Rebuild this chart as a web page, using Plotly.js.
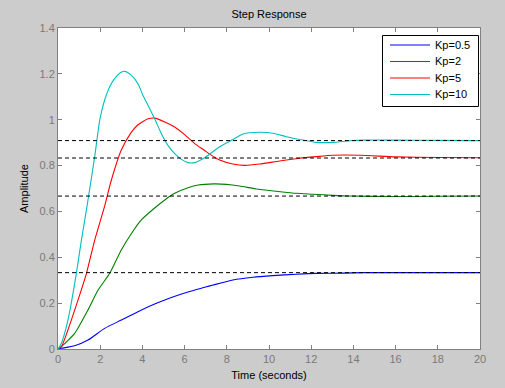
<!DOCTYPE html>
<html>
<head>
<meta charset="utf-8">
<script src="https://cdn.plot.ly/plotly-3.0.1.min.js"></script>
<style>
html,body{margin:0;padding:0;background:#cccccc;}
#chart{width:505px;height:388px;}
</style>
</head>
<body>
<div id="chart"></div>
<script>
// Series
const seriesNames = ["Kp=0.5", "Kp=2", "Kp=5", "Kp=10"];

const tBlue = [0,0.16,0.79,1.42,2.21,3.0,3.79,4.58,5.37,6.16,6.95,7.35,8.29,9.24,10.19,11.3,12.25,13.5,14.5,16,18,20];
const yBlue = [0,0.003,0.014,0.039,0.09,0.126,0.163,0.196,0.225,0.249,0.269,0.279,0.301,0.313,0.320,0.326,0.330,0.331,0.333,0.333,0.333,0.333];

const tGreen = [0,0.16,0.79,1.42,1.9,2.45,3.0,3.48,3.95,4.58,5.06,5.53,6.16,6.64,7.4,7.98,8.61,9.4,10.35,11.3,12.09,13.03,13.8,16,18,20];
const yGreen = [0,0.01,0.068,0.17,0.257,0.33,0.432,0.504,0.563,0.615,0.65,0.679,0.703,0.715,0.72,0.718,0.711,0.698,0.688,0.679,0.675,0.670,0.667,0.665,0.666,0.667];

const tRed = [0,0.16,0.47,0.95,1.35,1.74,2.2,2.53,3.0,3.48,3.79,4.27,4.58,5.06,5.53,6.0,6.48,6.95,7.19,7.66,8.29,8.85,9.56,10.5,11.45,12.25,13.03,14.3,16,18,20];
const yRed = [0,0.01,0.083,0.214,0.33,0.475,0.62,0.737,0.868,0.946,0.978,1.004,1.007,0.99,0.968,0.935,0.896,0.866,0.85,0.824,0.807,0.801,0.807,0.820,0.832,0.839,0.845,0.845,0.838,0.835,0.834];

const tCyan = [0,0.16,0.47,0.87,1.11,1.37,1.74,1.98,2.21,2.45,2.69,2.92,3.16,3.48,3.79,4.03,4.27,4.58,4.9,5.21,5.53,5.85,6.16,6.48,6.95,7.66,8.29,8.77,9.56,10.19,10.82,11.45,12.25,13.03,13.82,14.5,16,18,20];
const yCyan = [0,0.025,0.126,0.33,0.475,0.62,0.839,0.999,1.086,1.144,1.18,1.203,1.211,1.193,1.157,1.106,1.062,1.004,0.939,0.888,0.852,0.827,0.813,0.813,0.834,0.882,0.914,0.938,0.945,0.941,0.926,0.914,0.901,0.901,0.908,0.911,0.911,0.910,0.909];

const steadyValues = [0.333, 0.667, 0.833, 0.909];
const timeRange = [0, 20];

const xTicks = [0,2,4,6,8,10,12,14,16,18,20];
const yTicks = [0,0.2,0.4,0.6,0.8,1,1.2,1.4];
const yTickLabels = ["0","0.2","0.4","0.6","0.8","1","1.2","1.4"];

const colors = ["#0000ff", "#008000", "#ff0000", "#00bfbf"];
const ts = [tBlue, tGreen, tRed, tCyan];
const ys = [yBlue, yGreen, yRed, yCyan];

const traces = [];
for (let i = 0; i < 4; i++) {
  traces.push({
    x: ts[i], y: ys[i], type: "scatter", mode: "lines",
    name: seriesNames[i], showlegend: false,
    line: {color: colors[i], width: 1.1, shape: "spline", smoothing: 0.6},
    hoverinfo: "skip"
  });
}
for (let i = 0; i < steadyValues.length; i++) {
  traces.push({
    x: timeRange, y: [steadyValues[i], steadyValues[i]],
    type: "scatter", mode: "lines", showlegend: false,
    line: {color: "#000000", width: 1, dash: "4px,3px"},
    hoverinfo: "skip"
  });
}

// Plot area in pixels (for placing the legend box)
const W = 505, H = 388;
const M = {l: 58, r: 25, t: 28, b: 39};
const pw = W - M.l - M.r, ph = H - M.t - M.b;
const px2x = p => (p - M.l) / pw;
const py2y = p => (H - M.b - p) / ph;

const shapes = [];
const annotations = [];
// legend box
shapes.push({type: "rect", xref: "paper", yref: "paper",
  x0: px2x(382.5), x1: px2x(478.5), y0: py2y(106.5), y1: py2y(35.5),
  fillcolor: "#ffffff", line: {color: "#000000", width: 1}, layer: "above"});
const rowY = [45, 61.5, 78, 94.5];
for (let i = 0; i < 4; i++) {
  shapes.push({type: "line", xref: "paper", yref: "paper",
    x0: px2x(390), x1: px2x(430), y0: py2y(rowY[i]), y1: py2y(rowY[i]),
    line: {color: colors[i], width: 1}, layer: "above"});
  annotations.push({xref: "paper", yref: "paper", x: px2x(433), y: py2y(rowY[i]),
    xanchor: "left", yanchor: "middle", showarrow: false, text: seriesNames[i],
    font: {size: 11, color: "#000000"}});
}

const axisCommon = {
  showgrid: false, zeroline: false,
  showline: true, linecolor: "#808080", linewidth: 1,
  mirror: "ticks", ticks: "inside", ticklen: 4, tickwidth: 1, tickcolor: "#808080",
  tickfont: {family: "Liberation Sans, Arial, sans-serif", size: 11, color: "#7a7a7a"}
};

const layout = {
  width: W, height: H,
  paper_bgcolor: "#cccccc", plot_bgcolor: "#ffffff",
  margin: {l: M.l, r: M.r, t: M.t, b: M.b, pad: 0},
  font: {family: "Liberation Sans, Arial, sans-serif", size: 11, color: "#000000"},
  title: {text: "Step Response", x: 0.5, xref: "paper", y: 1 - 14/388, yref: "container", yanchor: "middle",
          font: {size: 11, color: "#000000"}},
  xaxis: Object.assign({}, axisCommon, {
    range: timeRange, tickvals: xTicks, ticktext: xTicks.map(String),
    title: {text: "Time (seconds)", standoff: 7, font: {size: 11, color: "#000000"}}
  }),
  yaxis: Object.assign({}, axisCommon, {
    range: [0, 1.4], tickvals: yTicks, ticktext: yTickLabels,
    title: {text: "Amplitude", standoff: 8, font: {size: 11, color: "#000000"}}
  }),
  showlegend: false,
  shapes: shapes,
  annotations: annotations
};

Plotly.newPlot("chart", traces, layout, {staticPlot: true, displayModeBar: false});
</script>
</body>
</html>
